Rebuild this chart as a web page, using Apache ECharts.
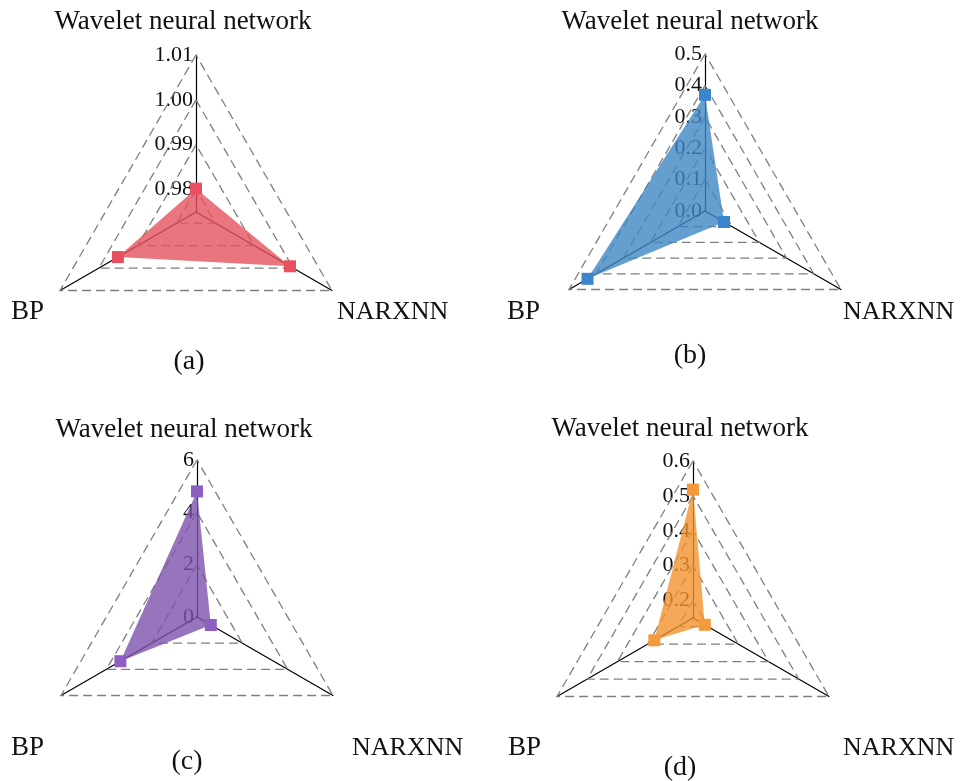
<!DOCTYPE html>
<html>
<head>
<meta charset="utf-8">
<script src="https://cdn.jsdelivr.net/npm/echarts@6/dist/echarts.min.js"></script>
<style>
  html, body { margin: 0; padding: 0; background: #fff; }
  #chart { width: 961px; height: 781px; }
</style>
</head>
<body>
<div id="chart"></div>
<script>
const indicatorNames = ["Wavelet neural network", "BP", "NARXNN"];
const panelLabels = ["(a)", "(b)", "(c)", "(d)"];

// values per panel, order: Wavelet, BP, NARXNN
const valuesA = [0.9802, 0.9951, 0.9992];
const valuesB = [0.37, 0.432, 0.07];
const valuesC = [4.8, 3.38, 0.61];
const valuesD = [0.518, 0.278, 0.189];

// tick labels on the top axis
const ticksA = [0.98, 0.99, 1.00, 1.01];
const ticksB = [0.0, 0.1, 0.2, 0.3, 0.4, 0.5];
const ticksC = [0, 2, 4, 6];
const ticksD = [0.2, 0.3, 0.4, 0.5, 0.6];

const axisMin = [0.975, 0, 0, 0.15];
const axisMax = [1.01, 0.5, 6, 0.6];
const decimals = [2, 1, 0, 1];

const fillColors = ["#e6525f", "#3d87c4", "#7d52ad", "#f4922f"];
const markColors = ["#e8505f", "#3a86cc", "#8c5fc0", "#f59a3c"];

// layout of the four panels (pixel positions)
const panels = [
  { center: [196, 212], title: [183, 22], bp: [44, 312], narx: [337, 312], label: [189, 362] },
  { center: [705, 211], title: [690, 22], bp: [540, 312], narx: [843, 312], label: [690, 356] },
  { center: [197, 617], title: [184, 430], bp: [44, 748], narx: [352, 748], label: [187, 762] },
  { center: [693, 618], title: [680, 429], bp: [541, 748], narx: [843, 748], label: [680, 768] },
];
const R = 157;
const FONT = "'Liberation Serif', 'Times New Roman', serif";

const allValues = [valuesA, valuesB, valuesC, valuesD];
const allTicks = [ticksA, ticksB, ticksC, ticksD];

const chart = echarts.init(document.getElementById("chart"));

let radars = [];
let grids = [];
let xAxes = [];
let yAxes = [];
let series = [];
let graphics = [];

panels.forEach((p, i) => {
  radars.push({
    center: p.center,
    radius: R,
    startAngle: 90,
    shape: "polygon",
    splitNumber: 1,
    indicator: indicatorNames.map((n) => ({ name: n, min: axisMin[i], max: axisMax[i] })),
    axisName: { show: false },
    axisLine: { lineStyle: { color: "#000", width: 1.2 } },
    axisTick: { show: false },
    axisLabel: { show: false },
    splitLine: { show: false },
    splitArea: { show: false },
  });

  // vertical value axis along the top spoke, only for the tick labels
  grids.push({ left: p.center[0], top: p.center[1] - R, width: 1, height: R });
  xAxes.push({ gridIndex: i, type: "value", show: false });
  yAxes.push({
    gridIndex: i,
    type: "value",
    min: axisMin[i],
    max: axisMax[i],
    axisLine: { show: false },
    axisTick: { show: false },
    splitLine: { show: false },
    axisLabel: {
      customValues: allTicks[i],
      formatter: (v) => v.toFixed(decimals[i]),
      fontFamily: FONT,
      fontSize: 22,
      color: "#111",
      margin: 3,
    },
  });

  // dashed rings at each tick value
  const rings = allTicks[i].filter((t) => t > axisMin[i]);
  series.push({
    type: "radar",
    radarIndex: i,
    silent: true,
    symbol: "none",
    lineStyle: { color: "#7f7f7f", width: 1.3, type: [9, 5] },
    data: rings.map((t) => ({ value: [t, t, t] })),
  });

  series.push({
    type: "radar",
    radarIndex: i,
    symbol: "rect",
    symbolSize: 12,
    itemStyle: { color: markColors[i] },
    lineStyle: { width: 0, opacity: 0 },
    areaStyle: { color: fillColors[i], opacity: 0.8 },
    data: [{ value: allValues[i] }],
  });

  const txt = (text, pos, align, size) => ({
    type: "text",
    x: pos[0],
    y: pos[1],
    style: {
      text: text,
      font: size + "px " + FONT,
      fill: "#111",
      align: align,
      verticalAlign: "middle",
    },
  });
  graphics.push(txt(indicatorNames[0], p.title, "center", 27));
  graphics.push(txt(indicatorNames[1], p.bp, "right", 27));
  graphics.push(txt(indicatorNames[2], p.narx, "left", 26));
  graphics.push(txt(panelLabels[i], p.label, "center", 28));
});

chart.setOption({
  backgroundColor: "#fff",
  animation: false,
  radar: radars,
  grid: grids,
  xAxis: xAxes,
  yAxis: yAxes,
  series: series,
  graphic: graphics,
});
</script>
</body>
</html>
